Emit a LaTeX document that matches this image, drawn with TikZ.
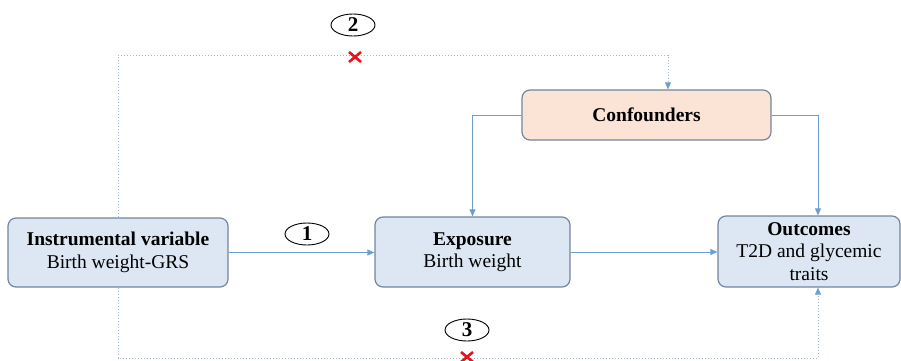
\documentclass[tikz,border=0pt]{standalone}
\usepackage{fontspec}
\setmainfont{Liberation Serif}
\usetikzlibrary{arrows.meta,shapes.geometric}

\definecolor{boxblue}{HTML}{DCE7F3}
\definecolor{boxpeach}{HTML}{FBE4D5}
\definecolor{boxline}{HTML}{72869F}
\definecolor{linkblue}{HTML}{6B9FD2}
\definecolor{dotblue}{HTML}{A3B9D6}
\definecolor{crossred}{HTML}{E8141C}

\tikzset{
	stagebox/.style = {draw = boxline, line width = 1.2pt, rounded corners = 8pt, fill = boxblue,
		align = center, font = \fontsize{19.5}{22.5}\selectfont, inner sep = 2pt},
	link/.style = {draw = linkblue, line width = 0.8pt, -{Triangle[length = 7pt, width = 6pt]}},
	nolink/.style = {draw = dotblue, line width = 0.8pt, dash pattern = on 1.5pt off 1.5pt,
		-{Triangle[length = 7pt, width = 6pt, color = linkblue]}},
	crossmark/.style = {draw = crossred, line width = 2.6pt},
	pathno/.style = {draw, ellipse, line width = 0.9pt, minimum width = 44pt, minimum height = 22pt,
		inner sep = 0pt, font = \fontsize{21}{21}\selectfont\bfseries}
}

\begin{document}
\begin{tikzpicture}[x = 1pt, y = -1pt]
		\useasboundingbox (0, 0) rectangle (901, 360);
		\clip (0, 0) rectangle (901, 360);

		\node [stagebox, minimum width = 220pt, minimum height = 69pt] (iv) at (118, 252.5)
			{\textbf{Instrumental variable}\\Birth weight-GRS};
		\node [stagebox, minimum width = 195pt, minimum height = 70pt] (exposure) at (472.5, 252)
			{\textbf{Exposure}\\Birth weight};
		\node [stagebox, minimum width = 182pt, minimum height = 71pt] (outcome) at (809, 251.5)
			{\textbf{Outcomes}\\T2D and glycemic\\traits};
		\node [stagebox, fill = boxpeach, minimum width = 249pt, minimum height = 50pt] (confounder) at (646.5, 115)
			{\textbf{Confounders}};

		\coordinate (topturn) at (118, 55);
		\coordinate (botturn) at (118, 358);

		% assumption 1
		\draw [link] (iv.east) -- (exposure.west |- iv.east);
		\draw [link] (exposure.east) -- (outcome.west |- exposure.east);

		% confounders
		\draw [link] (confounder.west) -| (exposure.north);
		\draw [link] (confounder.east) -| ([xshift = 9pt] outcome.north);

		% assumptions 2 and 3
		\draw [nolink] (iv.north) -- (topturn) -| ([xshift = 21.5pt] confounder.north);
		\draw [nolink] (iv.south) -- (botturn) -| ([xshift = 9pt] outcome.south);

		\node [pathno] (no1) at (307, 234) {1};
		\node [pathno] (no2) at (353, 25) {2};
		\node [pathno] (no3) at (467, 330) {3};

		\draw [crossmark] (355, 57) +(-6, -5) -- +(6, 5) +(-6, 5) -- +(6, -5);
		\draw [crossmark] (467, 357) +(-6, -5) -- +(6, 5) +(-6, 5) -- +(6, -5);
	\end{tikzpicture}
\end{document}
